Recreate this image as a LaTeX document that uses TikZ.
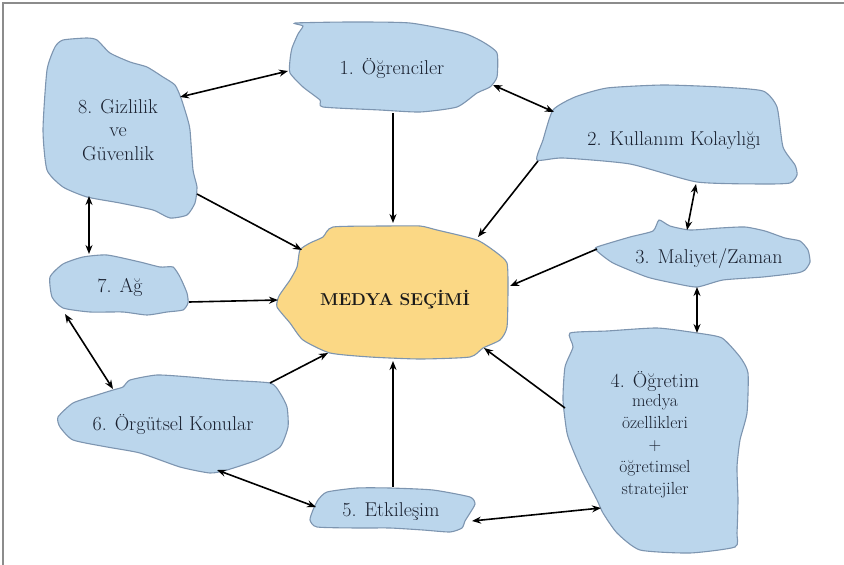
\documentclass[tikz,border=0pt]{standalone}
\usepackage{fontspec}
\setmainfont{Latin Modern Roman}
\usetikzlibrary{arrows.meta}
\definecolor{blobfill}{HTML}{BBD6EC}
\definecolor{blobedge}{HTML}{7D95B0}
\definecolor{corefill}{HTML}{FBD885}
\definecolor{txt}{HTML}{1A2130}
\definecolor{framegray}{HTML}{8C8C8C}
\tikzset{
  blob/.style={fill=blobfill,draw=blobedge,line width=1.1pt},
  coreblob/.style={fill=corefill,draw=blobedge,line width=1.1pt},
  lbl/.style={text=txt,font=\fontsize{20}{23.5}\selectfont,align=center,inner sep=0pt},
  sublbl/.style={text=txt,font=\fontsize{17.5}{22}\selectfont,align=center,inner sep=0pt},
  corelbl/.style={text=black!90,font=\fontsize{17.2}{23}\selectfont\bfseries,inner sep=0pt},
  onearrow/.style={line width=1.6pt,-{Stealth[length=9pt,width=7pt]}},
  twoarrow/.style={line width=1.6pt,{Stealth[length=9pt,width=7pt]}-{Stealth[length=9pt,width=7pt]}},
  smoothblob/.style={smooth cycle,tension=0.35}
}
\begin{document}
\begin{tikzpicture}[x=1pt,y=-1pt]
\useasboundingbox (0,0) rectangle (844,565);
\draw[framegray,line width=2pt] (3,565) -- (3,3) -- (844,3);

% blob 1
\draw[blob] plot[smoothblob] coordinates {(295,23) (303,26) (298,34) (292,48) (290,60) (290,73) (303,87) (320,100) (323,107) (380,110) (420,112) (457,107) (477,93) (490,87) (497,77) (497,53) (483,42) (463,33) (410,23) (350,22)};
% blob 2
\draw[blob] plot[smoothblob] coordinates {(553,110) (575,97) (607,88) (663,85) (720,87) (763,91) (777,107) (783,147) (795,165) (797,175) (790,183) (763,184) (697,182) (630,164) (563,158) (537,160) (543,140)};
% blob 3
\draw[blob] plot[smoothblob] coordinates {(597,247) (630,237) (653,231) (659,220) (670,226) (690,230) (720,228) (745,227) (765,231) (785,238) (800,241) (808,250) (810,262) (805,270) (797,273) (763,277) (723,280) (697,287) (673,283) (647,277) (613,263) (597,251)};
% blob 4
\draw[blob] plot[smoothblob] coordinates {(570,333) (607,331) (657,328) (697,333) (722,338) (740,357) (748,373) (747,413) (740,440) (737,467) (738,500) (737,533) (735,547) (690,553) (640,550) (617,533) (603,513) (597,500) (583,473) (573,450) (567,433) (563,400) (565,367) (573,347)};
% blob 5
\draw[blob] plot[smoothblob] coordinates {(327,492) (357,488) (390,488) (433,490) (470,497) (475,504) (470,513) (465,521) (462,528) (450,532) (423,530) (390,528) (357,528) (317,527) (310,520) (313,510) (318,500)};
% blob 6
\draw[blob] plot[smoothblob] coordinates {(113,390) (123,387) (130,380) (157,375) (190,377) (223,380) (270,383) (280,393) (287,407) (288,427) (280,447) (257,460) (227,470) (210,473) (180,467) (140,453) (107,447) (73,440) (60,427) (58,417) (73,403) (97,395)};
% blob 7
\draw[blob] plot[smoothblob] coordinates {(63,264) (83,257) (107,255) (140,262) (160,267) (173,267) (180,277) (187,293) (188,303) (183,310) (167,312) (147,315) (123,312) (90,312) (63,308) (52,297) (50,277)};
% blob 8
\draw[blob] plot[smoothblob] coordinates {(55,47) (63,40) (87,38) (97,40) (110,53) (130,62) (147,67) (163,77) (175,85) (181,98) (187,117) (190,130) (193,170) (197,187) (195,203) (187,215) (170,218) (153,210) (120,203) (87,197) (63,187) (47,170) (43,130) (47,70)};
% centre blob
\draw[coreblob] plot[smoothblob] coordinates {(333,227) (387,226) (420,226) (437,230) (477,240) (497,253) (507,263) (508,287) (507,327) (500,340) (483,348) (470,357) (420,359) (370,357) (330,353) (303,340) (290,323) (277,307) (279,296) (290,280) (297,267) (300,250) (310,243) (323,237)};

% labels
\node[lbl] (n1) at (392,69) {1. Öğrenciler};
\node[lbl] (n2) at (674,141) {2. Kullanım Kolaylığı};
\node[lbl] (n3) at (709,258) {3. Maliyet/Zaman};
\node[lbl] (n4) at (655,382) {4. Öğretim};
\node[sublbl,anchor=north] (n4b) at (655,394) {medya\\özellikleri\\+\\öğretimsel\\stratejiler};
\node[lbl] (n5) at (391,512) {5. Etkileşim};
\node[lbl] (n6) at (173,425) {6. Örgütsel Konular};
\node[lbl] (n7) at (120,287) {7. Ağ};
\node[lbl] (n8) at (118,130) {8. Gizlilik\\ve\\Güvenlik};
\node[corelbl] (nc) at (395,300) {MEDYA SEÇİMİ};

% connector end points
\coordinate (p1s) at (393,113);  \coordinate (p1c) at (393,223);
\coordinate (p2s) at (538,161);  \coordinate (p2c) at (478,237);
\coordinate (p3s) at (597,249);  \coordinate (p3c) at (510,286);
\coordinate (p4s) at (565,408);  \coordinate (p4c) at (484,348);
\coordinate (p5s) at (393,487);  \coordinate (p5c) at (393,361);
\coordinate (p6s) at (270,383);  \coordinate (p6c) at (328,353);
\coordinate (p7s) at (189,302);  \coordinate (p7c) at (278,300);
\coordinate (p8s) at (197,194);  \coordinate (p8c) at (302,250);
\coordinate (a81) at (180,97);   \coordinate (a18) at (288,71);
\coordinate (a12) at (493,85);   \coordinate (a21) at (554,112);
\coordinate (a23) at (696,184);  \coordinate (a32) at (687,230);
\coordinate (a34) at (697,287);  \coordinate (a43) at (697,333);
\coordinate (a45) at (601,508);  \coordinate (a54) at (472,521);
\coordinate (a56) at (316,507);  \coordinate (a65) at (217,470);
\coordinate (a67) at (113,389);  \coordinate (a76) at (65,314);
\coordinate (a78) at (89,254);   \coordinate (a87) at (89,196);

% one-way connectors to the centre
\draw[onearrow] (p1s) -- (p1c);
\draw[onearrow] (p2s) -- (p2c);
\draw[onearrow] (p3s) -- (p3c);
\draw[onearrow] (p4s) -- (p4c);
\draw[onearrow] (p5s) -- (p5c);
\draw[onearrow] (p6s) -- (p6c);
\draw[onearrow] (p7s) -- (p7c);
\draw[onearrow] (p8s) -- (p8c);

% two-way connectors round the ring
\draw[twoarrow] (a81) -- (a18);
\draw[twoarrow] (a12) -- (a21);
\draw[twoarrow] (a23) -- (a32);
\draw[twoarrow] (a34) -- (a43);
\draw[twoarrow] (a45) -- (a54);
\draw[twoarrow] (a56) -- (a65);
\draw[twoarrow] (a67) -- (a76);
\draw[twoarrow] (a78) -- (a87);
\end{tikzpicture}
\end{document}
